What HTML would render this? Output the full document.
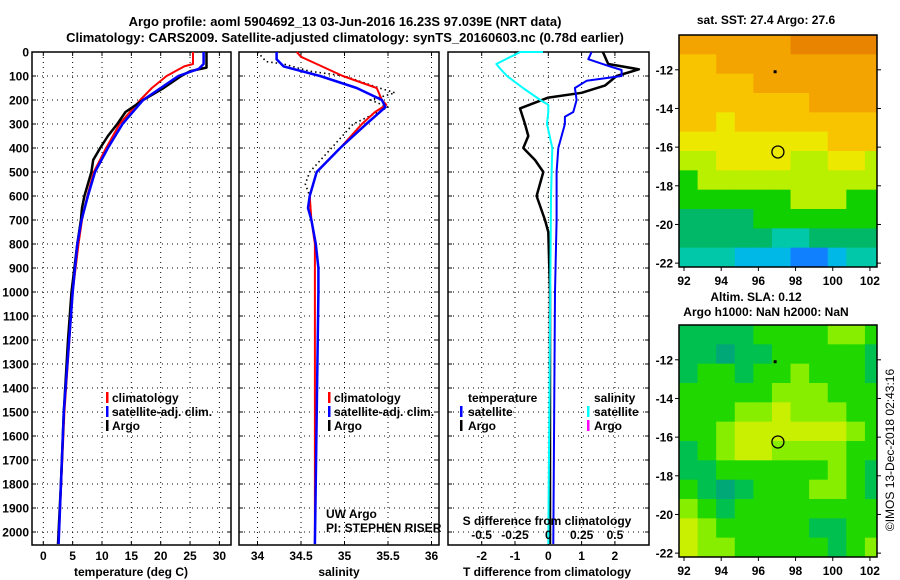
<!DOCTYPE html>
<html><head><meta charset="utf-8">
<style>
html,body{margin:0;padding:0;background:#fff;}
svg{display:block;font-family:"Liberation Sans",sans-serif;}
.t{font-weight:bold;font-size:13px;}
.l{font-weight:bold;font-size:12px;}
</style></head>
<body>
<svg id="c" width="900" height="580" viewBox="0 0 900 580" xmlns="http://www.w3.org/2000/svg">
<text class="t" x="345" y="26" text-anchor="middle">Argo profile: aoml 5904692_13 03-Jun-2016 16.23S 97.039E (NRT data)</text>
<text class="t" x="345" y="42" text-anchor="middle">Climatology: CARS2009. Satellite-adjusted climatology: synTS_20160603.nc (0.78d earlier)</text>
<text class="l" x="766" y="24" text-anchor="middle">sat. SST: 27.4 Argo: 27.6</text>
<text class="l" x="756" y="301" text-anchor="middle">Altim. SLA: 0.12</text>
<text class="l" x="766" y="316" text-anchor="middle">Argo h1000: NaN h2000: NaN</text>
<text x="894" y="450" font-size="12" transform="rotate(-90 894 450)" text-anchor="middle">©IMOS 13-Dec-2018 02:43:16</text>
<g id="g"></g>
</svg>
<script>
// ---- data ----
const depthTicks=[0,100,200,300,400,500,600,700,800,900,1000,1100,1200,1300,1400,1500,1600,1700,1800,1900,2000];
const tempTicks=[0,5,10,15,20,25,30];
const salTicks=[34,34.5,35,35.5,36];
const tdTicks=[-2,-1,0,1,2];
const sdTicks=[-0.5,-0.25,0,0.25,0.5];
const tempArgoDepth=[0,50,65,80,100,150,200,250,300,350,400,450,500,600,650,700,800,1000,1200,1500,1800,2050];
const tempArgo=[27.8,27.8,27.8,25,23.5,20.5,17,14,12.6,11,9.7,8.5,8.2,7,6.6,6.4,5.8,4.8,4.2,3.5,3,2.5];
const tempClimDepth=[0,50,60,100,150,200,300,400,500,600,700,800,1000,1500,2050];
const tempClim=[25.5,25.5,24,21,18.5,16.5,13,10.7,8.6,7.5,6.6,6,5,3.6,2.6];
const tempSatDepth=[0,50,70,100,150,200,300,400,500,600,700,800,1000,1500,2050];
const tempSat=[27.3,27.3,26.5,23,20,17,13.5,11,8.8,7.6,6.5,5.8,5,3.5,2.6];
const salArgoDepth=[0,40,50,80,100,150,170,200,230,300,400,500,550,600,700];
const salArgo=[34.0,34.1,34.3,34.6,35.0,35.4,35.58,35.3,35.5,35.1,34.85,34.6,34.55,34.6,34.62];
const salClimDepth=[0,20,50,100,150,200,220,250,300,400,500,600,700,800,1000,2050];
const salClim=[34.45,34.5,34.68,34.98,35.37,35.43,35.48,35.35,35.2,34.95,34.68,34.6,34.62,34.66,34.66,34.66];
const salSatDepth=[0,30,60,100,150,200,230,300,400,500,600,650,700,800,900,1000,2050];
const salSat=[34.22,34.22,34.3,34.72,35.14,35.43,35.47,35.25,34.95,34.68,34.6,34.58,34.62,34.67,34.7,34.7,34.66];
const tdArgoDepth=[0,50,72,100,140,170,190,235,300,350,400,450,500,600,700,750,1000,2050];
const tdArgo=[1.64,1.8,2.72,2.05,1.7,1.0,0,-0.85,-0.7,-0.6,-0.75,-0.4,-0.15,-0.35,-0.1,0,0.05,0.05];
const tdSatDepth=[0,30,60,75,100,120,150,200,250,270,300,400,500,700,1000,2050];
const tdSat=[1.3,1.2,1.85,2.2,2.2,1.15,0.8,0.85,0.75,0.5,0.5,0.3,0.25,0.25,0.2,0.15];
const sdSatDepth=[0,0,50,70,100,150,200,220,250,300,400,600,2050];
const sdSat=[-0.04,-0.21,-0.39,-0.36,-0.31,-0.19,-0.06,0,0,-0.01,0.03,0.02,0.0];
const lonTicks=[92,94,96,98,100,102];
const latTicks=[-12,-14,-16,-18,-20,-22];
const sstGrid=[
[1,1,1,1,1,1,0,0,0,0,0],
[2,2,1,1,1,1,1,1,1,1,1],
[2,2,2,2,1,1,1,1,1,1,1],
[2,2,2,2,2,2,2,1,1,1,1],
[2,2,3,2,2,2,2,2,2,2,2],
[3,3,3,3,3,3,3,3,2,2,2],
[4,4,3,3,3,3,4,4,3,3,4],
[5,4,4,4,4,4,4,4,4,4,4],
[5,5,5,5,5,5,4,4,4,5,5],
[6,6,6,6,5,5,5,5,5,5,5],
[6,6,6,6,6,7,7,6,6,6,6],
[7,7,7,8,8,8,9,9,8,7,7]];
const slaGrid=[
[1,1,1,1,2,2,2,2,3,3,2],
[1,1,0,1,1,2,2,2,2,2,1],
[1,2,2,1,2,2,3,2,2,2,1],
[2,2,2,2,2,3,3,3,2,2,2],
[2,2,2,3,3,4,3,3,3,2,2],
[2,2,3,4,4,4,4,4,4,3,2],
[1,2,3,4,4,3,3,3,3,2,2],
[1,1,2,2,2,2,2,2,3,2,1],
[2,1,0,1,2,2,2,3,3,2,1],
[3,2,1,2,2,2,2,2,2,2,2],
[4,3,2,2,2,2,2,1,1,2,2],
[4,3,3,2,2,2,2,2,1,2,3]];
const floatLon=97.05, floatLat=-16.25;

// ---- drawing ----
const NS="http://www.w3.org/2000/svg";
const G=document.getElementById('g');
function el(tag,attrs,parent){const e=document.createElementNS(NS,tag);for(const k in attrs)e.setAttribute(k,attrs[k]);(parent||G).appendChild(e);return e;}
const yD=d=>52+d*0.24;
const PB=545;
const xT=v=>43.3+v*5.87;
const xS=v=>257.5+(v-34)*87;
const xTD=v=>548.3+v*33.3;
const xSD=v=>548.3+v*133.3;

function panel(x0,x1,name,xticks,xf,labels){
  const g=el('g',{});
  
  
  depthTicks.forEach(d=>{const y=yD(d);
    const ln=el('line',{x1:x0,x2:x1,y1:y,y2:y,stroke:'#000','stroke-width':1,'stroke-dasharray':'1 4'},g);
    
    
    el('line',{x1:x0,x2:x0+4,y1:y,y2:y,stroke:'#000'},g);el('line',{x1:x1-4,x2:x1,y1:y,y2:y,stroke:'#000'},g);});
  xticks.forEach(v=>{const x=xf(v);
    const ln=el('line',{x1:x,x2:x,y1:52,y2:PB,stroke:'#000','stroke-width':1,'stroke-dasharray':'1 4'},g);
    
    
    el('line',{x1:x,x2:x,y1:PB-4,y2:PB,stroke:'#000'},g);el('line',{x1:x,x2:x,y1:52,y2:56,stroke:'#000'},g);
    if(labels){const t=el('text',{x:x,y:560,'text-anchor':'middle',class:'l'},g);t.textContent=String(v);
      
      }
  });
  const r=el('rect',{x:x0,y:52,width:x1-x0,height:PB-52,fill:'none',stroke:'#000','stroke-width':1.5},g);
  
  
  return g;
}
function line(xs,ds,xf,color,w,name,dash){
  const pts=xs.map((v,i)=>xf(v).toFixed(1)+','+yD(ds[i]).toFixed(1)).join(' ');
  const p=el('polyline',{points:pts,fill:'none',stroke:color,'stroke-width':w,'stroke-linejoin':'round'});
  if(dash)p.setAttribute('stroke-dasharray',dash);
  
  
}
function txt(x,y,s,name,cls,anchor,extra){const t=el('text',Object.assign({x:x,y:y,class:cls||'l','text-anchor':anchor||'start'},extra||{}));t.textContent=s;
  
  return t;}
function legMark(x,y,c,name){const r=el('rect',{x:x,y:y-10,width:2.5,height:11,fill:c});
  
  }

// Panel 1
panel(32,231,'temperature-panel',tempTicks,xT,true);
depthTicks.forEach(d=>{const t=txt(29,yD(d)+4.5,String(d),'depth-tick-label','l','end');});
line(tempClim,tempClimDepth,xT,'#f00',2,'temp-climatology-line');
line(tempArgo,tempArgoDepth,xT,'#000',2.5,'temp-argo-line');
line(tempSat,tempSatDepth,xT,'#00f',2.5,'temp-satellite-line');
txt(131,576,'temperature (deg C)','x-axis-title-temperature','l','middle');
legMark(106,402,'#f00','legend-marker-climatology');txt(112,402,'climatology','legend-climatology');
legMark(106,416,'#00f','legend-marker-satellite');txt(112,416,'satellite-adj. clim.','legend-satellite');
legMark(106,430,'#000','legend-marker-argo');txt(112,430,'Argo','legend-argo');

// Panel 2
panel(239,439,'salinity-panel',salTicks,xS,true);
line(salArgo,salArgoDepth,xS,'#000',1.6,'sal-argo-line','1.5 3');
line(salClim,salClimDepth,xS,'#f00',2,'sal-climatology-line');
line(salSat,salSatDepth,xS,'#00f',2.5,'sal-satellite-line');
txt(339,576,'salinity','x-axis-title-salinity','l','middle');
legMark(328,402,'#f00','legend-marker-climatology');txt(334,402,'climatology','legend-climatology');
legMark(328,416,'#00f','legend-marker-satellite');txt(334,416,'satellite-adj. clim.','legend-satellite');
legMark(328,430,'#000','legend-marker-argo');txt(334,430,'Argo','legend-argo');
txt(326,518,'UW Argo','float-institution','', 'start',{'font-size':12});
txt(326,532,'PI: STEPHEN RISER','float-pi','', 'start',{'font-size':12});

// Panel 3
panel(448,649,'difference-panel',tdTicks,xTD,true);
line(tdArgo,tdArgoDepth,xTD,'#000',2.5,'tdiff-argo-line');
line(tdSat,tdSatDepth,xTD,'#00f',2,'tdiff-satellite-line');
line(sdSat,sdSatDepth,xSD,'#0ff',2,'sdiff-satellite-line');
sdTicks.forEach(v=>txt(xSD(v),539,String(v),'s-tick-label','l','middle'));
txt(547,525,'S difference from climatology','s-axis-title','l','middle');
txt(547,576,'T difference from climatology','t-axis-title','l','middle');
txt(468,402,'temperature','legend-temperature-header');
legMark(460,416,'#00f','legend-marker-tsat');txt(468,416,'satellite','legend-tsat');
legMark(460,430,'#000','legend-marker-targo');txt(468,430,'Argo','legend-targo');
txt(594,402,'salinity','legend-salinity-header');
legMark(587,416,'#0ff','legend-marker-ssat');txt(594,416,'satellite','legend-ssat');
legMark(587,430,'#f0f','legend-marker-sargo');txt(594,430,'Argo','legend-sargo');

// Maps
const sstColors=['#e88400','#f4a400','#f8c400','#ece800','#b8f000','#10d000','#00b868','#00c8a8','#00b8e8','#1080ff'];
const slaColors=['#00a878','#00c050','#20d800','#88ee00','#c8f000'];
const LON0=91.73,LON1=102.38,LAT0=-10.2,LAT1=-22.2;
function map(top,grid,colors,name){
  const X0=679,X1=877,Y0=top,Y1=top+232;
  const xL=v=>X0+(v-LON0)/(LON1-LON0)*(X1-X0);
  const yL=v=>Y0+(LAT0-v)/(LAT0-LAT1)*(Y1-Y0);
  const g=el('g',{});
  
  
  grid.forEach((row,i)=>row.forEach((v,j)=>{
    const x=xL(LON0+j),y=yL(LAT0-i);const x2=Math.min(xL(LON0+j+1),X1),y2=yL(LAT0-i-1);
    const r=el('rect',{x:x,y:y,width:x2-x+0.5,height:y2-y+0.5,fill:colors[v]},g);
    
    
  }));
  const c=el('circle',{cx:xL(floatLon),cy:yL(floatLat),r:6,fill:'none',stroke:'#000','stroke-width':1.3},g);
  
  
  el('rect',{x:xL(96.9)-1.5,y:yL(-12.1)-1.5,width:3,height:3,fill:'#000'},g);
  const f=el('rect',{x:X0,y:Y0,width:X1-X0,height:Y1-Y0,fill:'none',stroke:'#000','stroke-width':1.5},g);
  
  
  lonTicks.forEach(v=>{const x=xL(v);el('line',{x1:x,x2:x,y1:Y1,y2:Y1+4,stroke:'#000'},g);
    const t=txt(x,Y1+18,String(v),'lon-tick-label','l','middle');});
  latTicks.forEach(v=>{const y=yL(v);el('line',{x1:X0-4,x2:X0,y1:y,y2:y,stroke:'#000'},g);el('line',{x1:X1,x2:X1+4,y1:y,y2:y,stroke:'#000'},g);
    const t=txt(X0-6,y+4.5,String(v),'lat-tick-label','l','end');});
}
map(35,sstGrid,sstColors,'sst-map');
map(325,slaGrid,slaColors,'sla-map');
</script>
</body></html>
